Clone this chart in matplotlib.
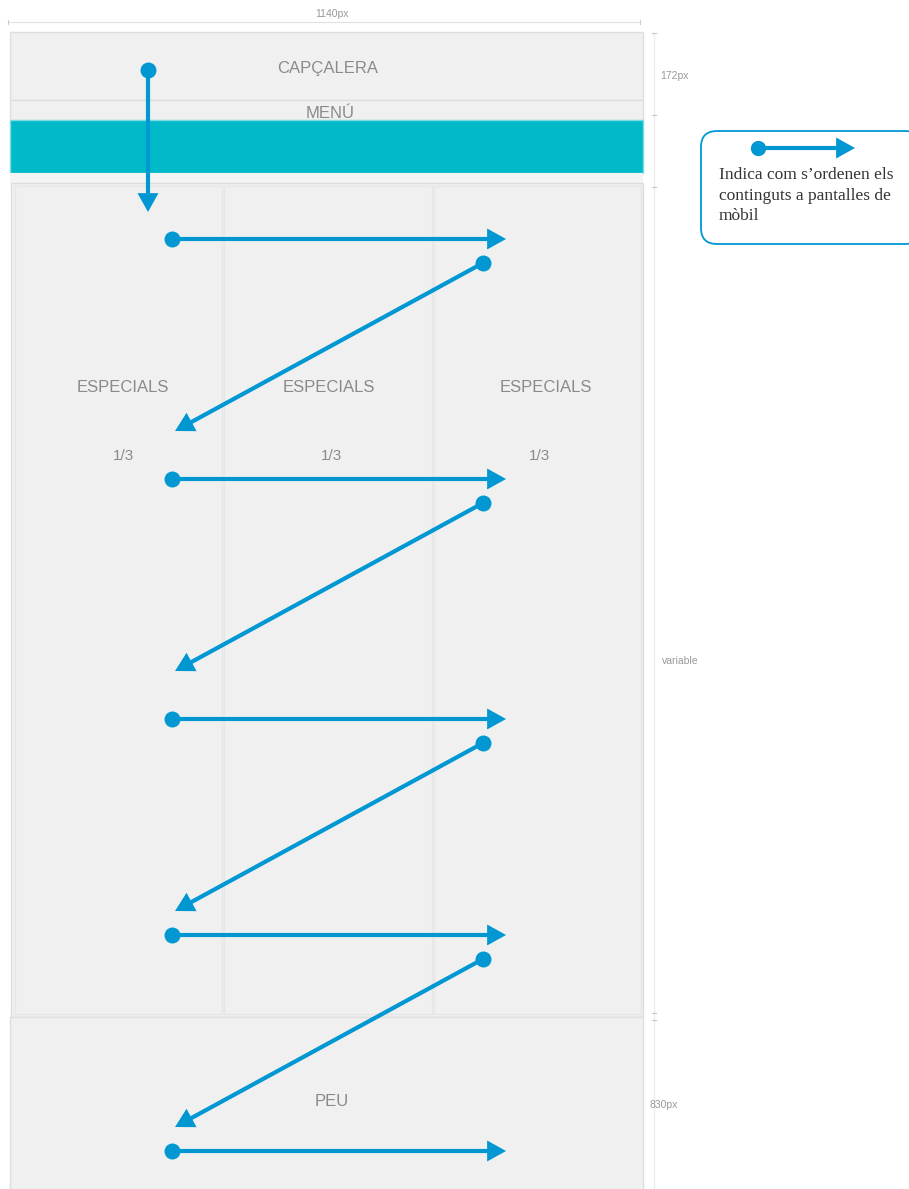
import matplotlib
matplotlib.use("Agg")
import matplotlib.pyplot as plt
from matplotlib.patches import Rectangle, FancyBboxPatch

# ---- data ----
col_labels = ["ESPECIALS", "ESPECIALS", "ESPECIALS"]
col_fracs = ["1/3", "1/3", "1/3"]
col_text_x = [123, 329, 546]
frac_text_x = [123, 331, 540]
row_y = [239, 479, 719, 935, 1151]          # horizontal arrows (left dot -> right)
diag_pairs = [(263, 431), (503, 671), (743, 911), (959, 1127)]  # right dot -> left tip
dim_labels = ["172px", "variable", "830px"]
legend_lines = ["Indica com s\u2019ordenen els", "continguts a pantalles de", "mòbil"]

BLUE = "#0097d3"
TEAL = "#00b9c9"
GRAY_BG = "#f0f0f0"
GRAY_EDGE = "#dedede"
TXT = "#8a8a8a"

fig = plt.figure(figsize=(9.09, 11.89), dpi=100)
ax = fig.add_axes([0, 0, 1, 1])
ax.set_xlim(0, 909)
ax.set_ylim(1189, 0)
ax.axis("off")

# top dimension
ax.plot([8, 640], [22, 22], color="#e2e2e2", lw=0.8)
for x in [8, 640]:
    ax.plot([x, x], [20, 24], color="#cccccc", lw=0.8)
ax.text(332, 14, "1140px", fontsize=7.5, color="#999999", ha="center", va="center", family="Liberation Sans")

# header
ax.add_patch(Rectangle((10, 32), 633, 68, facecolor=GRAY_BG, edgecolor=GRAY_EDGE, lw=1))
ax.text(328, 69, "CAPÇALERA", fontsize=12, color=TXT, ha="center", va="center", family="Liberation Sans")
# menu
ax.add_patch(Rectangle((10, 100), 633, 20, facecolor=GRAY_BG, edgecolor=GRAY_EDGE, lw=1))
ax.text(330, 114, "MENÚ", fontsize=12, color=TXT, ha="center", va="center", family="Liberation Sans")
ax.add_patch(Rectangle((10, 120), 633, 53, facecolor=TEAL, edgecolor="#7fdbe3", lw=1))
ax.add_patch(Rectangle((10, 173), 633, 10, facecolor="#f4f4f4", edgecolor="none"))

# main columns
ax.add_patch(Rectangle((11, 183), 632, 834, facecolor=GRAY_BG, edgecolor=GRAY_EDGE, lw=1))
for x0, x1 in [(15, 222), (224, 432), (434, 641)]:
    ax.add_patch(Rectangle((x0, 186), x1 - x0, 828, facecolor=GRAY_BG, edgecolor="#e6e6e6", lw=1))
for x, lab in zip(col_text_x, col_labels):
    ax.text(x, 388, lab, fontsize=12, color=TXT, ha="center", va="center", family="Liberation Sans")
for x, lab in zip(frac_text_x, col_fracs):
    ax.text(x, 456, lab, fontsize=11, color=TXT, ha="center", va="center", family="Liberation Sans")

# footer
ax.add_patch(Rectangle((10, 1017), 633, 180, facecolor=GRAY_BG, edgecolor=GRAY_EDGE, lw=1))
ax.text(332, 1102, "PEU", fontsize=12, color=TXT, ha="center", va="center", family="Liberation Sans")

# right dimension line
ax.plot([654, 654], [33, 1189], color="#ececec", lw=1)
for y in [33, 115, 187, 1013, 1020]:
    ax.plot([652, 656], [y, y], color="#c8c8c8", lw=0.8)
ax.text(660, 76, dim_labels[0], fontsize=7.5, color="#999999", ha="left", va="center", family="Liberation Sans")
ax.text(662, 661, dim_labels[1], fontsize=7.5, color="#999999", ha="left", va="center", family="Liberation Sans")
ax.text(650, 1105, dim_labels[2], fontsize=7.5, color="#999999", ha="left", va="center", family="Liberation Sans")


def arrow(x0, y0, x1, y1, ms=11.5):
    ax.annotate("", xy=(x1, y1), xytext=(x0, y0),
                arrowprops=dict(arrowstyle="-|>,head_length=0.36,head_width=0.2", color=BLUE,
                                lw=3.0, shrinkA=0, shrinkB=0, mutation_scale=25,
                                joinstyle="miter", capstyle="butt"))
    ax.plot([x0], [y0], marker="o", markersize=ms, color=BLUE, markeredgewidth=0)


# vertical arrow
arrow(148, 70, 148, 212)
for y in row_y:
    arrow(172, y, 506, y)
for ya, yb in diag_pairs:
    arrow(483, ya, 175, yb)

# legend box
ax.add_patch(FancyBboxPatch((701, 131), 220, 113, boxstyle="round,pad=0,rounding_size=16",
                            facecolor="white", edgecolor=BLUE, lw=1.3))
arrow(758, 148, 855, 148, ms=11)
for i, line in enumerate(legend_lines):
    ax.text(719, 175 + i * 20.5, line, fontsize=12.5, color="#333333", ha="left", va="center",
            family="Liberation Serif")

fig.savefig("out.png", dpi=100)
